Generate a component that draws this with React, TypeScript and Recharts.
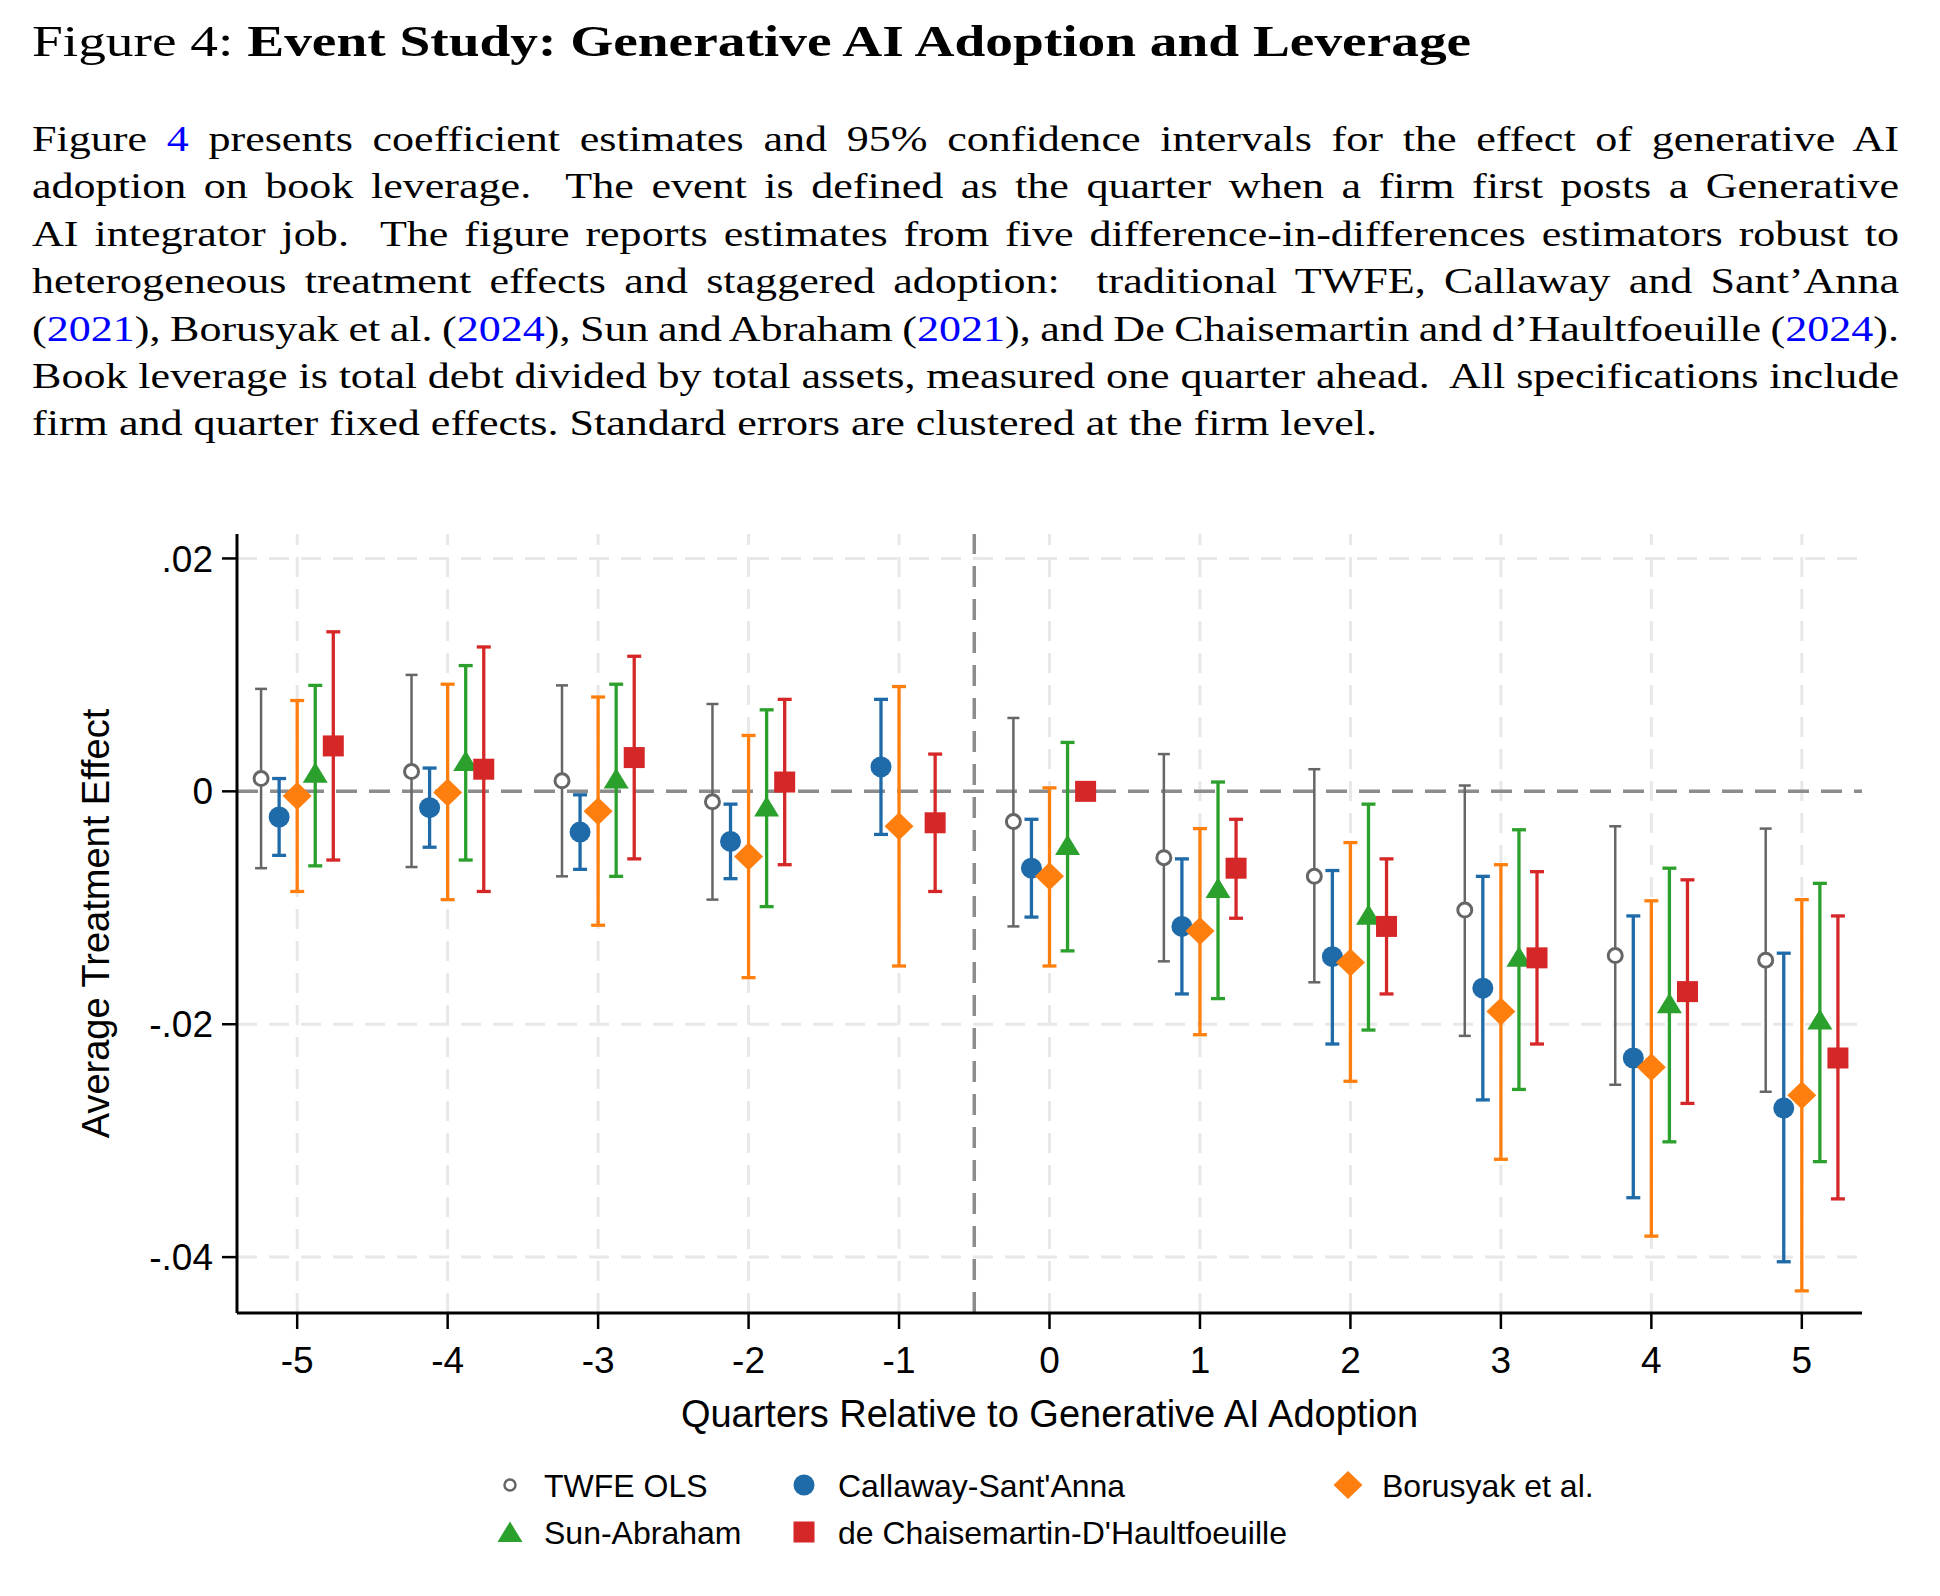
import React from 'react'
import {
  ScatterChart, Scatter, ErrorBar, XAxis, YAxis,
  ReferenceLine, Legend
} from 'recharts'

// event time (quarters relative to adoption)
const quarters = [-5, -4, -3, -2, -1, 0, 1, 2, 3, 4, 5]

// TWFE OLS (no estimate at -1, reference period)
const twfeEst = [0.0011, 0.0017, 0.0009, -0.0009, null, -0.0026, -0.0057, -0.0073, -0.0102, -0.0141, -0.0145]
const twfeLo = [-0.0066, -0.0065, -0.0073, -0.0093, null, -0.0116, -0.0146, -0.0164, -0.0210, -0.0252, -0.0258]
const twfeHi = [0.0088, 0.0100, 0.0091, 0.0075, null, 0.0063, 0.0032, 0.0019, 0.0005, -0.0030, -0.0032]

// Callaway-Sant'Anna
const csEst = [-0.0022, -0.0014, -0.0035, -0.0043, 0.0021, -0.0066, -0.0116, -0.0142, -0.0169, -0.0229, -0.0272]
const csLo = [-0.0055, -0.0048, -0.0067, -0.0075, -0.0037, -0.0108, -0.0174, -0.0217, -0.0265, -0.0349, -0.0404]
const csHi = [0.0011, 0.0020, -0.0003, -0.0011, 0.0079, -0.0024, -0.0058, -0.0068, -0.0073, -0.0107, -0.0139]

// Borusyak et al.
const bjsEst = [-0.0004, -0.0001, -0.0017, -0.0056, -0.0030, -0.0073, -0.0120, -0.0147, -0.0189, -0.0237, -0.0261]
const bjsLo = [-0.0086, -0.0093, -0.0115, -0.0160, -0.0150, -0.0150, -0.0209, -0.0249, -0.0316, -0.0382, -0.0429]
const bjsHi = [0.0078, 0.0092, 0.0081, 0.0048, 0.0090, 0.0003, -0.0032, -0.0044, -0.0063, -0.0094, -0.0093]

// Sun-Abraham (no estimate at -1)
const saEst = [0.0016, 0.0026, 0.0011, -0.0013, null, -0.0046, -0.0083, -0.0106, -0.0142, -0.0182, -0.0196]
const saLo = [-0.0064, -0.0059, -0.0073, -0.0099, null, -0.0137, -0.0178, -0.0205, -0.0256, -0.0301, -0.0318]
const saHi = [0.0091, 0.0108, 0.0092, 0.0070, null, 0.0042, 0.0008, -0.0011, -0.0033, -0.0066, -0.0079]

// de Chaisemartin-D'Haultfoeuille (no interval at 0)
const dcdhEst = [0.0039, 0.0019, 0.0029, 0.0008, -0.0027, 0.0000, -0.0066, -0.0116, -0.0143, -0.0172, -0.0229]
const dcdhLo = [-0.0059, -0.0086, -0.0058, -0.0063, -0.0086, null, -0.0109, -0.0174, -0.0217, -0.0268, -0.0350]
const dcdhHi = [0.0137, 0.0124, 0.0116, 0.0079, 0.0032, null, -0.0024, -0.0058, -0.0069, -0.0076, -0.0107]

const yTicks = [0.02, 0, -0.02, -0.04]

const GRAY = '#666666'
const BLUE = '#1f6aa8'
const ORANGE = '#ff7f0e'
const GREEN = '#2ca02c'
const RED = '#d62728'
const GRID = '#e8e8e8'
const SANS = '"Liberation Sans", Arial, Helvetica, sans-serif'
const SERIF = '"Liberation Serif", "Times New Roman", serif'
const LINK = '#0000ff'

function toPoints(est: (number | null)[], lo: (number | null)[], hi: (number | null)[], shift: number) {
  const out: { x: number; y: number; err: number[] }[] = []
  quarters.forEach((q, i) => {
    const e = est[i]
    if (e == null) return
    const l = lo[i]
    const h = hi[i]
    out.push({ x: q + shift, y: e, err: l == null || h == null ? [0, 0] : [e - l, h - e] })
  })
  return out
}

const twfeData = toPoints(twfeEst, twfeLo, twfeHi, -0.24)
const csData = toPoints(csEst, csLo, csHi, -0.12)
const bjsData = toPoints(bjsEst, bjsLo, bjsHi, 0)
const saData = toPoints(saEst, saLo, saHi, 0.12)
const dcdhData = toPoints(dcdhEst, dcdhLo, dcdhHi, 0.24)

// marker shapes
const HollowCircle = ({ cx, cy, r = 7, sw = 3 }: any) => (
  <circle cx={cx} cy={cy} r={r} fill="#fff" stroke={GRAY} strokeWidth={sw} />
)
const Dot = ({ cx, cy }: any) => <circle cx={cx} cy={cy} r={10.5} fill={BLUE} />
const Diamond = ({ cx, cy }: any) => (
  <polygon points={`${cx},${cy - 14} ${cx + 14.5},${cy} ${cx},${cy + 14} ${cx - 14.5},${cy}`} fill={ORANGE} />
)
const Triangle = ({ cx, cy }: any) => (
  <polygon points={`${cx},${cy - 10.5} ${cx + 12.5},${cy + 10} ${cx - 12.5},${cy + 10}`} fill={GREEN} />
)
const Square = ({ cx, cy }: any) => <rect x={cx - 10.5} y={cy - 10.5} width={21} height={21} fill={RED} />

const legendRows = [
  [
    { name: 'TWFE OLS', Mark: (p: any) => <HollowCircle {...p} r={5.5} sw={2.5} /> },
    { name: "Callaway-Sant'Anna", Mark: Dot },
    { name: 'Borusyak et al.', Mark: Diamond },
  ],
  [
    { name: 'Sun-Abraham', Mark: Triangle },
    { name: "de Chaisemartin-D'Haultfoeuille", Mark: Square },
  ],
]
const legendCols = [510, 804, 1348]

const LegendBody = () => (
  <svg width={1940} height={110} style={{ display: 'block' }}>
    {legendRows.map((row, r) =>
      row.map((item, c) => {
        const cy = 25 + r * 47
        const cx = legendCols[c]
        const M = item.Mark
        return (
          <g key={item.name}>
            <M cx={cx} cy={cy} />
            <text x={cx + 34} y={cy + 11.5} fontFamily={SANS} fontSize={32} fill="#000">{item.name}</text>
          </g>
        )
      })
    )}
  </svg>
)

const fmtY = (v: number) => {
  if (v === 0) return '0'
  const s = v.toFixed(2)
  return s.replace('0.', '.')
}

const YTitle = (props: any) => {
  const vb = props.viewBox || {}
  const cy = vb.y + vb.height / 2
  return (
    <text x={109} y={cy} transform={`rotate(-90 109 ${cy})`} textAnchor="middle"
      fontFamily={SANS} fontSize={38} fill="#000">Average Treatment Effect</text>
  )
}

const XTitle = (props: any) => {
  const vb = props.viewBox || {}
  return (
    <text x={vb.x + vb.width / 2} y={vb.y + 114} textAnchor="middle"
      fontFamily={SANS} fontSize={38} fill="#000">Quarters Relative to Generative AI Adoption</text>
  )
}

const L = ({ children }: any) => <span style={{ color: LINK }}>{children}</span>

const paraLines = [
  <>Figure <L>4</L> presents coefficient estimates and 95% confidence intervals for the effect of generative AI</>,
  <>adoption on book leverage.&nbsp; The event is defined as the quarter when a firm first posts a Generative</>,
  <>AI integrator job.&nbsp; The figure reports estimates from five difference-in-differences estimators robust to</>,
  <>heterogeneous treatment effects and staggered adoption:&nbsp; traditional TWFE, Callaway and Sant’Anna</>,
  <>(<L>2021</L>), Borusyak et al. (<L>2024</L>), Sun and Abraham (<L>2021</L>), and De Chaisemartin and d’Haultfoeuille (<L>2024</L>).</>,
  <>Book leverage is total debt divided by total assets, measured one quarter ahead.&nbsp; All specifications include</>,
  <>firm and quarter fixed effects. Standard errors are clustered at the firm level.</>,
]

// the LaTeX face is wider than Times: stretch horizontally
const TEXT_STRETCH = 1.259
const TEXT_WIDTH = 1867

export default function App() {
  const last = paraLines.length - 1
  return (
    <div style={{ position: 'absolute', left: 0, top: 0, width: 1940, height: 1596, background: '#fff', overflow: 'hidden' }}>
      <div style={{ position: 'absolute', left: 0, top: 0 }}>
        <ScatterChart width={1940} height={1596} margin={{ top: 534, right: 78, bottom: 183, left: 97 }}>
          <XAxis
            type="number"
            dataKey="x"
            domain={[-5.4, 5.4]}
            ticks={quarters}
            allowDataOverflow
            height={100}
            tickSize={16}
            tickMargin={18}
            tick={{ fill: '#000', fontSize: 37, fontFamily: SANS }}
            axisLine={{ stroke: '#000', strokeWidth: 3 }}
            tickLine={{ stroke: '#000', strokeWidth: 2.5 }}
            label={XTitle}
          />
          <YAxis
            type="number"
            dataKey="y"
            domain={[-0.0448, 0.0221]}
            ticks={yTicks}
            allowDataOverflow
            width={140}
            tickSize={15}
            tickMargin={9}
            tickFormatter={fmtY}
            tick={{ fill: '#000', fontSize: 37, fontFamily: SANS }}
            axisLine={{ stroke: '#000', strokeWidth: 3 }}
            tickLine={{ stroke: '#000', strokeWidth: 2.5 }}
            label={YTitle}
          />
          {/* light dashed grid at each tick */}
          {quarters.map((q) => (
            <ReferenceLine key={`gx${q}`} x={q} stroke={GRID} strokeWidth={3} strokeDasharray="20 12" />
          ))}
          {yTicks.filter((t) => t !== 0).map((t) => (
            <ReferenceLine key={`gy${t}`} y={t} stroke={GRID} strokeWidth={3} strokeDasharray="20 12" />
          ))}
          <ReferenceLine y={0} stroke="#8c8c8c" strokeWidth={3.5} strokeDasharray="21 12" />
          <ReferenceLine x={-0.5} stroke="#8c8c8c" strokeWidth={3.5} strokeDasharray="21 12" />
          <Scatter name="TWFE OLS" data={twfeData} shape={HollowCircle} isAnimationActive={false}>
            <ErrorBar dataKey="err" direction="y" width={6} stroke={GRAY} strokeWidth={2.5} />
          </Scatter>
          <Scatter name="Callaway-Sant'Anna" data={csData} shape={Dot} isAnimationActive={false}>
            <ErrorBar dataKey="err" direction="y" width={7} stroke={BLUE} strokeWidth={3.3} />
          </Scatter>
          <Scatter name="Borusyak et al." data={bjsData} shape={Diamond} isAnimationActive={false}>
            <ErrorBar dataKey="err" direction="y" width={7} stroke={ORANGE} strokeWidth={3.3} />
          </Scatter>
          <Scatter name="Sun-Abraham" data={saData} shape={Triangle} isAnimationActive={false}>
            <ErrorBar dataKey="err" direction="y" width={7} stroke={GREEN} strokeWidth={3.3} />
          </Scatter>
          <Scatter name="de Chaisemartin-D'Haultfoeuille" data={dcdhData} shape={Square} isAnimationActive={false}>
            <ErrorBar dataKey="err" direction="y" width={7} stroke={RED} strokeWidth={3.3} />
          </Scatter>
          <Legend
            layout="horizontal"
            verticalAlign="middle"
            align="center"
            wrapperStyle={{ position: 'absolute', top: 1460, left: 0, width: 1940, height: 110 }}
            content={() => <LegendBody />}
          />
        </ScatterChart>
      </div>

      <div style={{
        position: 'absolute', left: 32, top: 19, fontSize: 45, lineHeight: '45px',
        fontFamily: SERIF, whiteSpace: 'nowrap', color: '#000',
        transform: 'scaleX(1.23)', transformOrigin: 'left top'
      }}>
        Figure 4: <b>Event Study: Generative AI Adoption and Leverage</b>
      </div>

      <div style={{
        position: 'absolute', left: 32, top: 116, width: TEXT_WIDTH / TEXT_STRETCH, fontFamily: SERIF, fontSize: 35,
        color: '#000', transform: `scaleX(${TEXT_STRETCH})`, transformOrigin: 'left top'
      }}>
        {paraLines.map((line, i) => (
          <div key={i} style={{
            height: 47.4, lineHeight: '47px', whiteSpace: 'nowrap',
            textAlign: i < last ? 'justify' : 'left',
            textAlignLast: i < last ? 'justify' : 'left',
          }}>
            <span style={{
              display: 'inline-block', width: i < last ? '100%' : 'auto', whiteSpace: 'normal',
              wordSpacing: i < last ? -3 : 0,
              textAlign: 'justify', textAlignLast: i < last ? 'justify' : 'left'
            }}>{line}</span>
          </div>
        ))}
      </div>
    </div>
  )
}
